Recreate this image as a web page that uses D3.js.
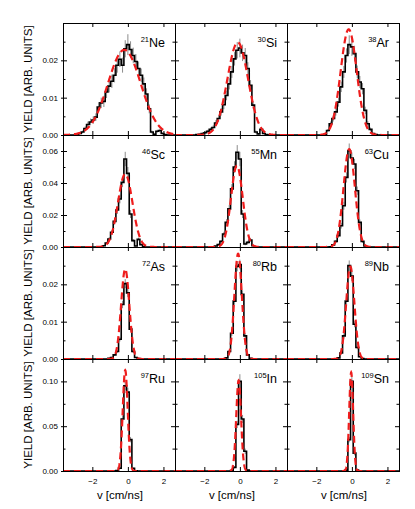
<!DOCTYPE html>
<meta charset="utf-8">
<style>
  body { margin: 0; background: #fff; }
  svg text { font-family: "Liberation Sans", Arial, sans-serif; }
</style>
<svg width="415" height="509"></svg>
<script src="https://d3js.org/d3.v7.min.js"></script>
<script>

// isotopes, row by row
var symbols = ["Ne", "Si", "Ar", "Sc", "Mn", "Cu", "As", "Rb", "Nb", "Ru", "In", "Sn"],
    masses  = [21, 30, 38, 46, 55, 63, 72, 80, 89, 97, 105, 109];

// histogram: bin width and centre of the first listed bin
var binW = 0.15;
var firstBin = [-2.7, -2.4, -1.5, -1.5, -1.35, -1.2, -1.05, -0.75, -0.75, -0.6, -0.45, -0.3];

var yNe21 = [0.0004,0.0008,0.0017,0.0028,0.0035,0.004,0.0048,0.0075,0.0086,0.009,0.0115,0.0131,0.0144,0.016,0.0187,0.0203,0.0187,0.0231,0.0242,0.0229,0.0213,0.0197,0.0178,0.016,0.0137,0.011,0.007,0.0008,0.0002,0.001,0.0012,0.0004,0.0001];
var eNe21 = [0.0003,0.0004,0.0006,0.0008,0.0009,0.001,0.001,0.0013,0.0014,0.0015,0.0016,0.0017,0.0018,0.0019,0.002,0.0021,0.002,0.0023,0.0028,0.0022,0.0021,0.002,0.0019,0.0018,0.0017,0.0015,0.0012,0.0004,0.0002,0.0004,0.0005,0.0003,0.0001];
var ySi30 = [0.0001,0.0002,0.0004,0.0006,0.001,0.0015,0.002,0.0032,0.0044,0.0062,0.0081,0.0106,0.0137,0.0169,0.0204,0.0227,0.0233,0.022,0.0213,0.0178,0.0133,0.008,0.0008,0.0003,0.0015,0.0004,0.0001];
var eSi30 = [0.0001,0.0002,0.0003,0.0003,0.0004,0.0005,0.0006,0.0008,0.0009,0.001,0.0012,0.0013,0.0015,0.0016,0.0018,0.0022,0.0025,0.0022,0.002,0.0017,0.0014,0.001,0.0004,0.0002,0.0005,0.0002,0.0001];
var yAr38 = [0.0001,0.0012,0.003,0.0044,0.0062,0.0088,0.0129,0.0169,0.0213,0.0242,0.0236,0.0218,0.0169,0.0142,0.0124,0.0066,0.003,0.0015,0.0004,0.0001];
var eAr38 = [0.0001,0.0004,0.0006,0.0008,0.001,0.0012,0.0014,0.0016,0.0019,0.0025,0.0024,0.0021,0.0017,0.0016,0.0015,0.001,0.0007,0.0005,0.0002,0.0001];
var ySc46 = [0.0002,0.0008,0.0025,0.005,0.0092,0.016,0.0231,0.03,0.0404,0.055,0.046,0.0206,0.004,0.0006,0.0048,0.0015,0.0002];
var eSc46 = [0.0002,0.0005,0.0008,0.0012,0.0015,0.002,0.0024,0.0027,0.003,0.0045,0.004,0.0025,0.001,0.0004,0.001,0.0006,0.0002];
var yMn55 = [0.0006,0.0015,0.0035,0.0081,0.0154,0.0238,0.0363,0.05,0.0592,0.055,0.0206,0.0019,0.0029,0.0044,0.0008,0.0001];
var eMn55 = [0.0004,0.0006,0.0009,0.0014,0.002,0.0025,0.003,0.0036,0.0045,0.0045,0.0025,0.0008,0.001,0.0012,0.0005,0.0001];
var yCu63 = [0.0002,0.0013,0.0035,0.0071,0.0133,0.0258,0.0435,0.0602,0.0556,0.0519,0.0352,0.0154,0.0035,0.0006,0.0001];
var eCu63 = [0.0002,0.0006,0.0009,0.0013,0.0018,0.0025,0.0032,0.0045,0.0035,0.0032,0.0026,0.0018,0.0009,0.0004,0.0001];
var yAs72 = [0.0002,0.0004,0.0011,0.002,0.0053,0.0146,0.0202,0.0177,0.008,0.002,0.0004,0.0001];
var eAs72 = [0.0001,0.0002,0.0003,0.0004,0.0006,0.001,0.0012,0.0011,0.0007,0.0004,0.0002,0.0001];
var yRb80 = [0.0003,0.002,0.0069,0.0155,0.0248,0.0253,0.0173,0.0062,0.0011,0.0002];
var eRb80 = [0.0002,0.0004,0.0007,0.001,0.0013,0.0013,0.0011,0.0007,0.0003,0.0001];
var yNb89 = [0.0003,0.0016,0.0062,0.0155,0.025,0.0222,0.0093,0.0031,0.0006,0.0001];
var eNb89 = [0.0002,0.0004,0.0007,0.001,0.0014,0.0013,0.0008,0.0005,0.0002,0.0001];
var yRu97 = [0.0004,0.003,0.058,0.095,0.088,0.035,0.003,0.0003];
var eRu97 = [0.0003,0.001,0.004,0.005,0.005,0.003,0.001,0.0003];
var yIn105 = [0.0005,0.004,0.052,0.1,0.058,0.022,0.001];
var eIn105 = [0.0003,0.0012,0.004,0.008,0.0045,0.003,0.0005];
var ySn109 = [0.001,0.035,0.1,0.02,0.001];
var eSn109 = [0.0005,0.003,0.006,0.0025,0.0005];

var yields = [yNe21, ySi30, yAr38, ySc46, yMn55, yCu63, yAs72, yRb80, yNb89, yRu97, yIn105, ySn109],
    errors = [eNe21, eSi30, eAr38, eSc46, eMn55, eCu63, eAs72, eRb80, eNb89, eRu97, eIn105, eSn109];

// gaussian fits (red dashed)
var fitAmp   = [0.0228, 0.0248, 0.0283, 0.0456, 0.0508, 0.0612, 0.0241, 0.0282, 0.0248, 0.1125, 0.101, 0.110],
    fitMean  = [-0.2, -0.12, -0.18, -0.15, -0.17, -0.15, -0.15, -0.1, -0.09, -0.15, -0.07, -0.04],
    fitSigma = [0.92, 0.58, 0.45, 0.41, 0.33, 0.32, 0.23, 0.21, 0.23, 0.14, 0.135, 0.11];

// axes
var xDomain = [-3.65, 2.65],
    xTicks = [-2, 0, 2];
var yMax = [0.03, 0.07, 0.03, 0.125],
    yMajor = [[0, 0.01, 0.02], [0, 0.02, 0.04, 0.06], [0, 0.01, 0.02], [0, 0.05, 0.10]],
    yMinor = [[0.005, 0.015, 0.025], [0.01, 0.03, 0.05], [0.005, 0.015, 0.025], [0.025, 0.075]];

var svg = d3.select("svg"),
    padL = 63, padT = 23, size = 112;

svg.append("rect").attr("width", 415).attr("height", 509).attr("fill", "#fff");

var x = d3.scaleLinear().domain(xDomain).range([0, size]);

function styleAxis(sel) {
  sel.select(".domain").remove();
  sel.attr("font-family", "Liberation Sans, Arial, sans-serif").attr("font-size", 8);
  sel.selectAll("line").attr("stroke", "#000");
}

symbols.forEach(function(sym, i) {
  var row = Math.floor(i / 3), col = i % 3;
  var y = d3.scaleLinear().domain([0, yMax[row]]).range([size, 0]);
  var g = svg.append("g").attr("transform", "translate(" + (padL + col * size) + "," + (padT + row * size) + ")");

  g.append("clipPath").attr("id", "clip" + i)
    .append("rect").attr("width", size).attr("height", size);
  var plot = g.append("g").attr("clip-path", "url(#clip" + i + ")");

  var bins = yields[i].map(function(v, k) {
    return { c: firstBin[i] + k * binW, v: v, e: errors[i][k] };
  });

  // error bars
  plot.selectAll(".err").data(bins).enter().append("line")
      .attr("x1", function(d) { return x(d.c); })
      .attr("x2", function(d) { return x(d.c); })
      .attr("y1", function(d) { return y(Math.max(0, d.v - d.e)); })
      .attr("y2", function(d) { return y(d.v + d.e); })
      .attr("stroke", "#8c8c8c").attr("stroke-width", 1);

  // histogram steps
  var pts = [[xDomain[0], 0]];
  bins.forEach(function(d) { pts.push([d.c - binW / 2, d.v]); });
  pts.push([bins[bins.length - 1].c + binW / 2, 0]);
  pts.push([xDomain[1], 0]);
  plot.append("path")
      .attr("d", d3.line().x(function(d) { return x(d[0]); }).y(function(d) { return y(d[1]); })
                 .curve(d3.curveStepAfter)(pts))
      .attr("fill", "none").attr("stroke", "#000").attr("stroke-width", 1.6);

  // fit
  var xs = d3.range(xDomain[0], xDomain[1] + 0.005, 0.01);
  plot.append("path")
      .attr("d", d3.line()
          .x(function(v) { return x(v); })
          .y(function(v) { var z = (v - fitMean[i]) / fitSigma[i]; return y(fitAmp[i] * Math.exp(-0.5 * z * z)); })(xs))
      .attr("fill", "none").attr("stroke", "#ee1c1c").attr("stroke-width", 2.2)
      .attr("stroke-dasharray", "7,4");

  // ticks
  g.append("g").call(d3.axisLeft(y).tickValues(yMajor[row]).tickSize(-4).tickPadding(5)
      .tickFormat(col === 0 ? d3.format(".2f") : "")).call(styleAxis);
  g.append("g").call(d3.axisLeft(y).tickValues(yMinor[row]).tickSize(-2.5).tickFormat("")).call(styleAxis);
  g.append("g").attr("transform", "translate(" + size + ",0)")
      .call(d3.axisRight(y).tickValues(yMajor[row]).tickSize(-4).tickFormat("")).call(styleAxis);
  g.append("g").attr("transform", "translate(" + size + ",0)")
      .call(d3.axisRight(y).tickValues(yMinor[row]).tickSize(-2.5).tickFormat("")).call(styleAxis);
  if (col === 0) {
    g.append("g").call(d3.axisLeft(y).tickValues(yMajor[row]).tickSize(2).tickFormat("")).call(styleAxis);
  }
  g.append("g").attr("transform", "translate(0," + size + ")")
      .call(d3.axisBottom(x).tickValues(xTicks).tickSize(-4).tickPadding(7)
      .tickFormat(row === 3 ? d3.format("d") : "")).call(styleAxis);
  g.append("g").call(d3.axisTop(x).tickValues(xTicks).tickSize(-4).tickFormat("")).call(styleAxis);

  // frame
  g.append("rect").attr("x", 0.5).attr("y", 0.5).attr("width", size).attr("height", size)
      .attr("fill", "none").attr("stroke", "#000").attr("stroke-width", 1);

  // isotope label
  var t = g.append("text").attr("x", size - 10).attr("y", 23.5).attr("text-anchor", "end");
  t.append("tspan").attr("font-size", 7.5).attr("dy", -4.5).text(masses[i]);
  t.append("tspan").attr("font-size", 12.5).attr("dy", 4.5).text(sym);

  if (col === 0) {
    svg.append("text")
        .attr("transform", "translate(32," + (padT + row * size + size / 2) + ") rotate(-90)")
        .attr("text-anchor", "middle").attr("font-size", 11.5)
        .text("YIELD [ARB. UNITS]");
  }
  if (row === 3) {
    svg.append("text")
        .attr("x", padL + col * size + x(0) - 8).attr("y", 498.5)
        .attr("text-anchor", "middle").attr("font-size", 11.5)
        .text("v [cm/ns]");
  }
});

</script>
